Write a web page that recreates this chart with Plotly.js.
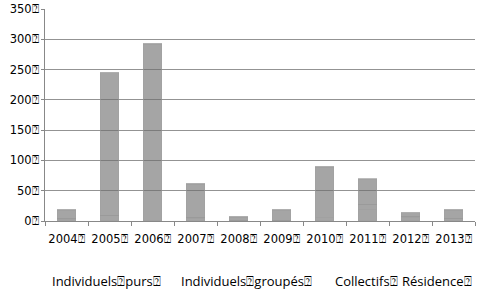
<!DOCTYPE html>
<html>
<head>
<meta charset="utf-8">
<script src="https://cdn.plot.ly/plotly-3.0.1.min.js"></script>
<style>html,body{margin:0;padding:0;background:#fff;}#chart{width:496px;height:298px;}</style>
</head>
<body>
<div id="chart"></div>
<script>
var years = ["2004⍰","2005⍰","2006⍰","2007⍰","2008⍰","2009⍰","2010⍰","2011⍰","2012⍰","2013⍰"];
var seriesNames = ["Individuels⍰purs⍰","Individuels⍰groupés⍰","Collectifs⍰","Résidence⍰"];
var individuelsPurs   = [3, 9, 1, 5, 0, 0, 6, 19, 7, 4];
var individuelsGroupes = [15, 236, 291, 56, 7, 18, 83, 8, 7, 14];
var collectifs        = [0, 0, 0, 0, 0, 0, 0, 42, 0, 0];
var residence         = [0, 0, 0, 0, 0, 0, 0, 0, 0, 0];
var yTicks = [0, 50, 100, 150, 200, 250, 300, 350];
var yTickLabels = ["0⍰","50⍰","100⍰","150⍰","200⍰","250⍰","300⍰","350⍰"];

var allSeries = [individuelsPurs, individuelsGroupes, collectifs, residence];
var traces = allSeries.map(function(vals, i){
  return {
    type: "bar", x: years, y: vals, name: seriesNames[i],
    marker: {color: "rgba(110,110,110,0.62)", line: {color: "rgba(160,160,160,0.45)", width: 1.5}},
    showlegend: false, hoverinfo: "skip"
  };
});

var legendX = [50, 179, 333, 400];
var annotations = seriesNames.map(function(n, i){
  return {text: n, xref: "paper", yref: "paper", x: (legendX[i]-45)/430, y: -0.285,
    xanchor: "left", yanchor: "middle", showarrow: false,
    font: {family: "Open Sans, sans-serif", size: 13, color: "#000"}};
});

var layout = {
  width: 496, height: 298,
  margin: {l: 45, r: 21, t: 9, b: 77},
  paper_bgcolor: "#fff", plot_bgcolor: "#fff",
  barmode: "stack", bargap: 0.58,
  font: {family: "DejaVu Sans, sans-serif", size: 11, color: "#000"},
  xaxis: {type: "category", tickson: "boundaries", ticks: "outside", ticklen: 4, tickcolor: "#888",
    tickangle: 0, automargin: false, ticklabelstandoff: 7,
    showline: true, linecolor: "#888", linewidth: 1, showgrid: false, zeroline: false,
    tickfont: {family: "DejaVu Sans, sans-serif", size: 11.5, color: "#000"}},
  yaxis: {range: [0, 350], tickvals: yTicks, ticktext: yTickLabels, showline: true, linecolor: "#888",
    linewidth: 1, showgrid: true, gridcolor: "#939393", gridwidth: 1, zeroline: false,
    ticks: "outside", ticklen: 3, tickcolor: "#888", automargin: false,
    tickfont: {family: "DejaVu Sans, sans-serif", size: 11.5, color: "#000"}},
  annotations: annotations
};
Plotly.newPlot("chart", traces, layout, {staticPlot: true, displayModeBar: false});
</script>
</body>
</html>
